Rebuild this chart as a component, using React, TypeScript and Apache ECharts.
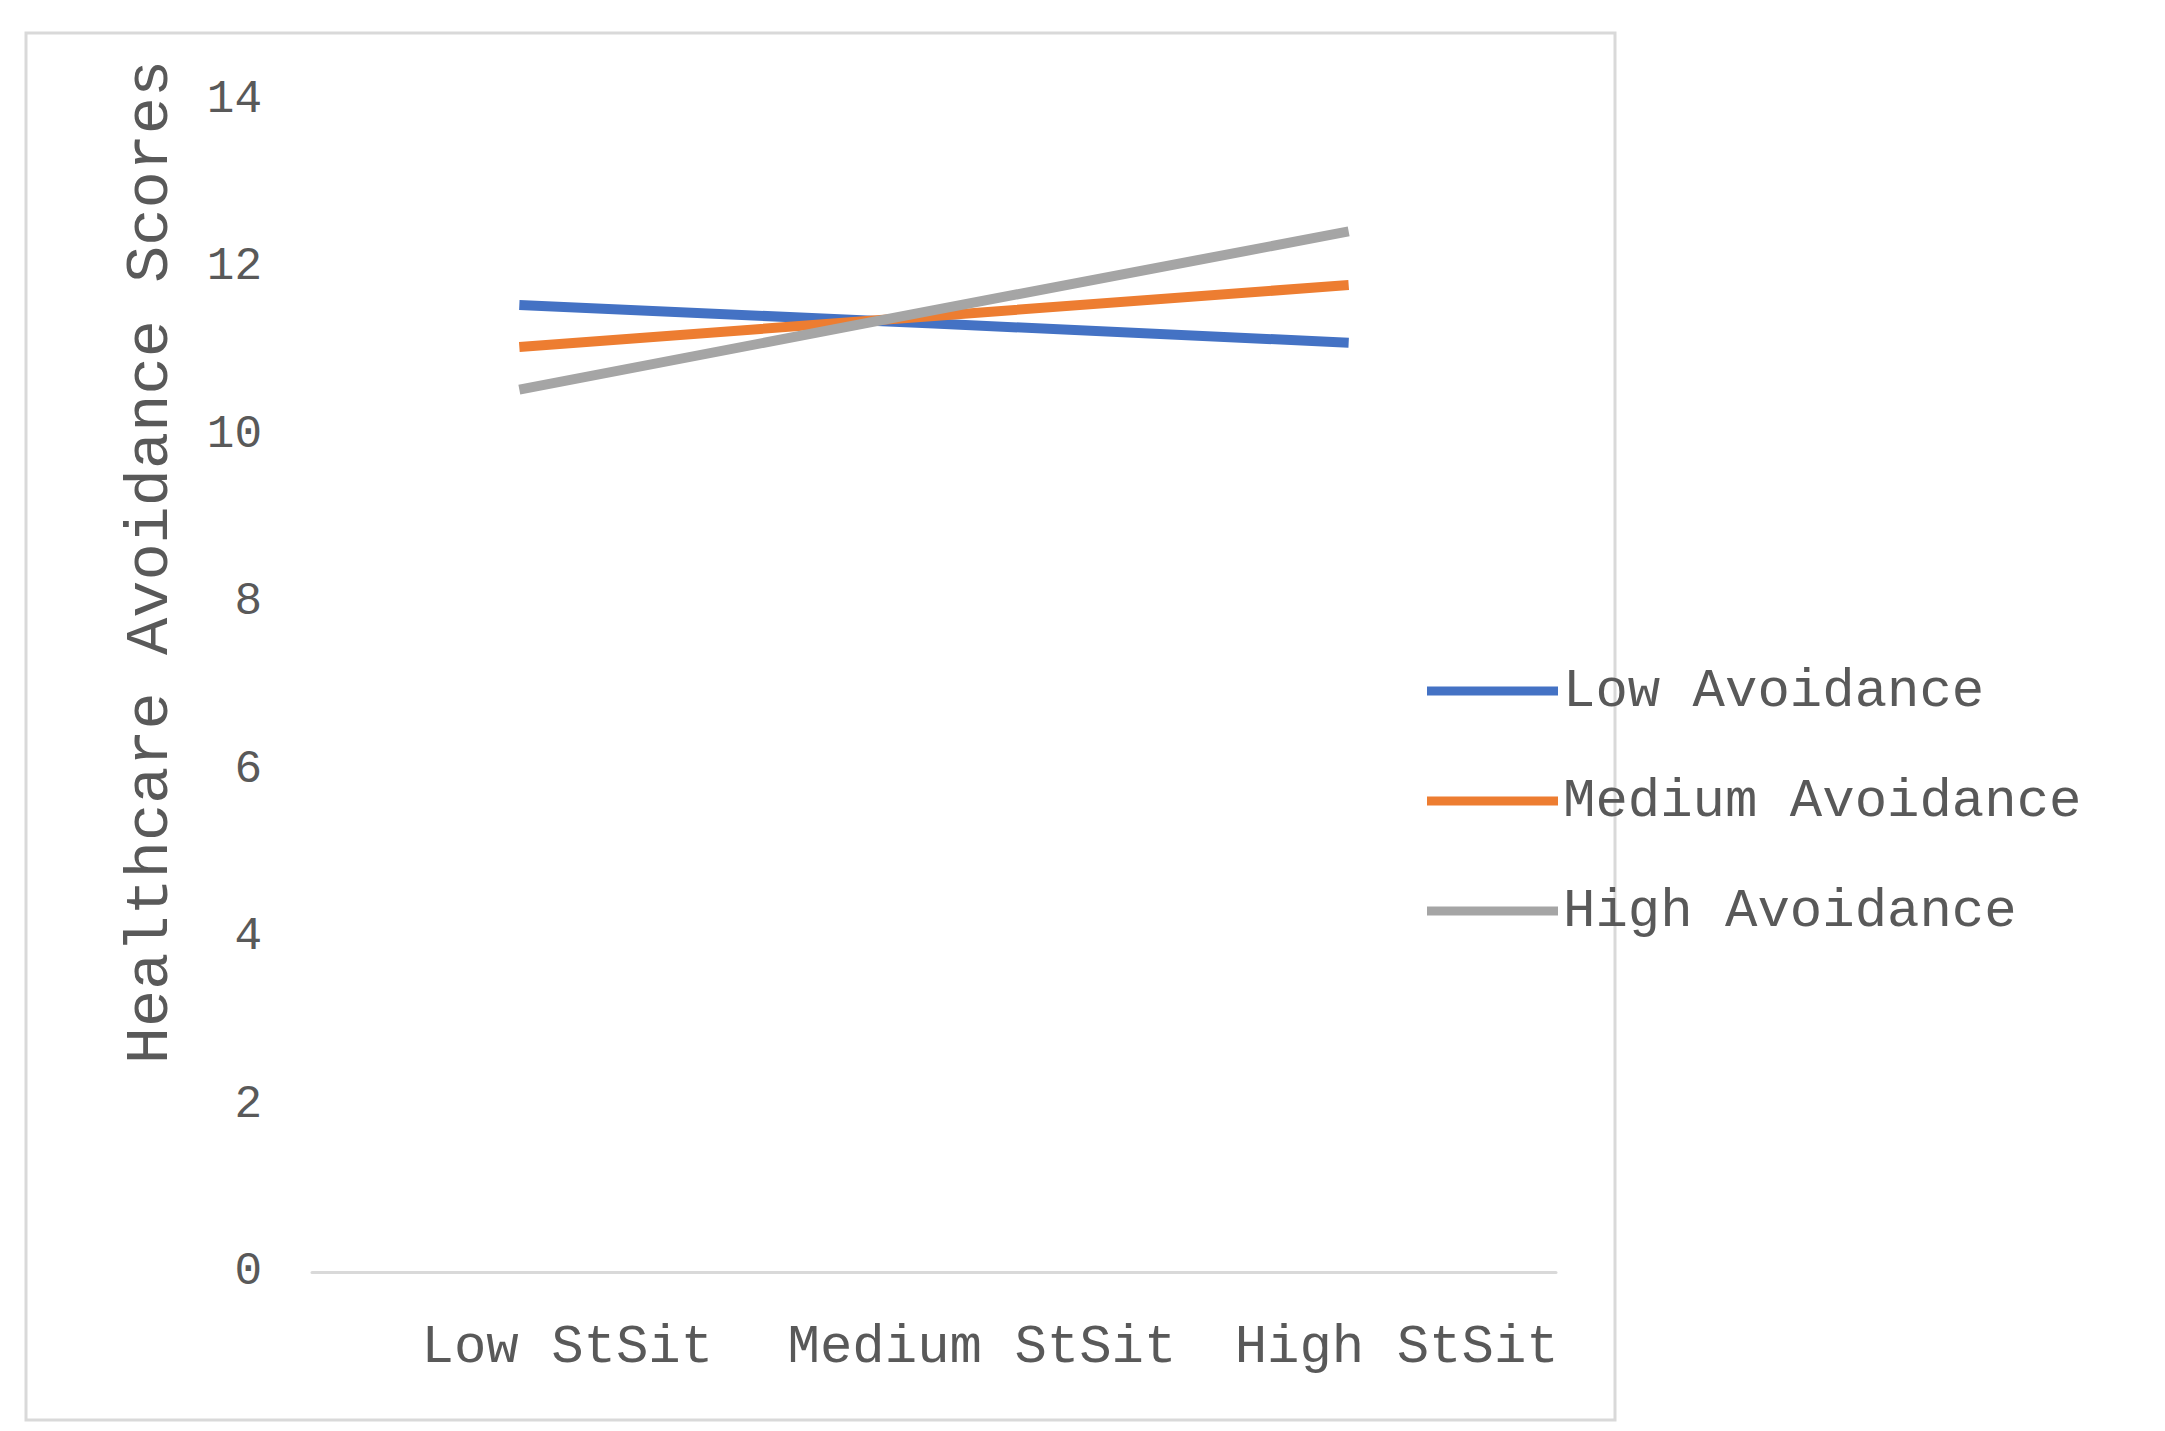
import React, { useEffect, useRef } from "react";
import * as echarts from "echarts";

const categories = ["Low StSit", "Medium StSit", "High StSit"];
const lowAvoidance = [11.55, 11.33, 11.1];
const mediumAvoidance = [11.05, 11.42, 11.79];
const highAvoidance = [10.54, 11.49, 12.43];
const yTicks = { min: 0, max: 14, interval: 2 };
const yTitle = "Healthcare Avoidance Scores";

const FONT = "'Liberation Mono', 'Courier New', monospace";
const TEXT = "#595959";

export default function App() {
  const ref = useRef<HTMLDivElement>(null);
  useEffect(() => {
    document.body.style.margin = "0";
    const chart = echarts.init(ref.current!, null, { renderer: "svg" });
    chart.setOption({
      animation: false,
      backgroundColor: "#ffffff",
      grid: { left: 312, right: 609, top: 100, bottom: 159, containLabel: false },
      graphic: [
        {
          type: "rect",
          shape: { x: 26, y: 33, width: 1589, height: 1387 },
          style: { fill: "none", stroke: "#d9d9d9", lineWidth: 3 },
          z: -1,
        },
        {
          type: "text",
          x: 150,
          y: 562,
          rotation: Math.PI / 2,
          style: {
            text: yTitle,
            fontFamily: FONT,
            fontSize: 62,
            fill: TEXT,
            textAlign: "center",
            textVerticalAlign: "middle",
          },
        },
      ],
      legend: {
        orient: "vertical",
        left: 1422,
        top: 659,
        icon: "rect",
        itemWidth: 131,
        itemHeight: 9,
        itemGap: 56,
        textStyle: { fontFamily: FONT, fontSize: 54, color: TEXT, lineHeight: 54 },
        data: ["Low Avoidance", "Medium Avoidance", "High Avoidance"],
      },
      xAxis: {
        type: "category",
        data: categories,
        boundaryGap: true,
        axisLine: { show: true, lineStyle: { color: "#d9d9d9", width: 3 } },
        axisTick: { show: false },
        axisLabel: {
          interval: 0,
          fontFamily: FONT,
          fontSize: 54,
          color: TEXT,
          margin: 48,
          align: "center",
          padding: [0, 0, 0, 96],
        },
        splitLine: { show: false },
      },
      yAxis: {
        type: "value",
        min: yTicks.min,
        max: yTicks.max,
        interval: yTicks.interval,
        axisLine: { show: false },
        axisTick: { show: false },
        splitLine: { show: false },
        axisLabel: { fontFamily: FONT, fontSize: 46, color: TEXT, margin: 50 },
      },
      series: [
        {
          name: "Low Avoidance",
          type: "line",
          data: lowAvoidance,
          symbol: "none",
          lineStyle: { color: "#4472C4", width: 10 },
          itemStyle: { color: "#4472C4" },
        },
        {
          name: "Medium Avoidance",
          type: "line",
          data: mediumAvoidance,
          symbol: "none",
          lineStyle: { color: "#ED7D31", width: 10 },
          itemStyle: { color: "#ED7D31" },
        },
        {
          name: "High Avoidance",
          type: "line",
          data: highAvoidance,
          symbol: "none",
          lineStyle: { color: "#A5A5A5", width: 10 },
          itemStyle: { color: "#A5A5A5" },
        },
      ],
    });
    return () => chart.dispose();
  }, []);
  return (
    <div
      ref={ref}
      style={{ position: "fixed", left: 0, top: 0, width: 2165, height: 1431 }}
    />
  );
}
